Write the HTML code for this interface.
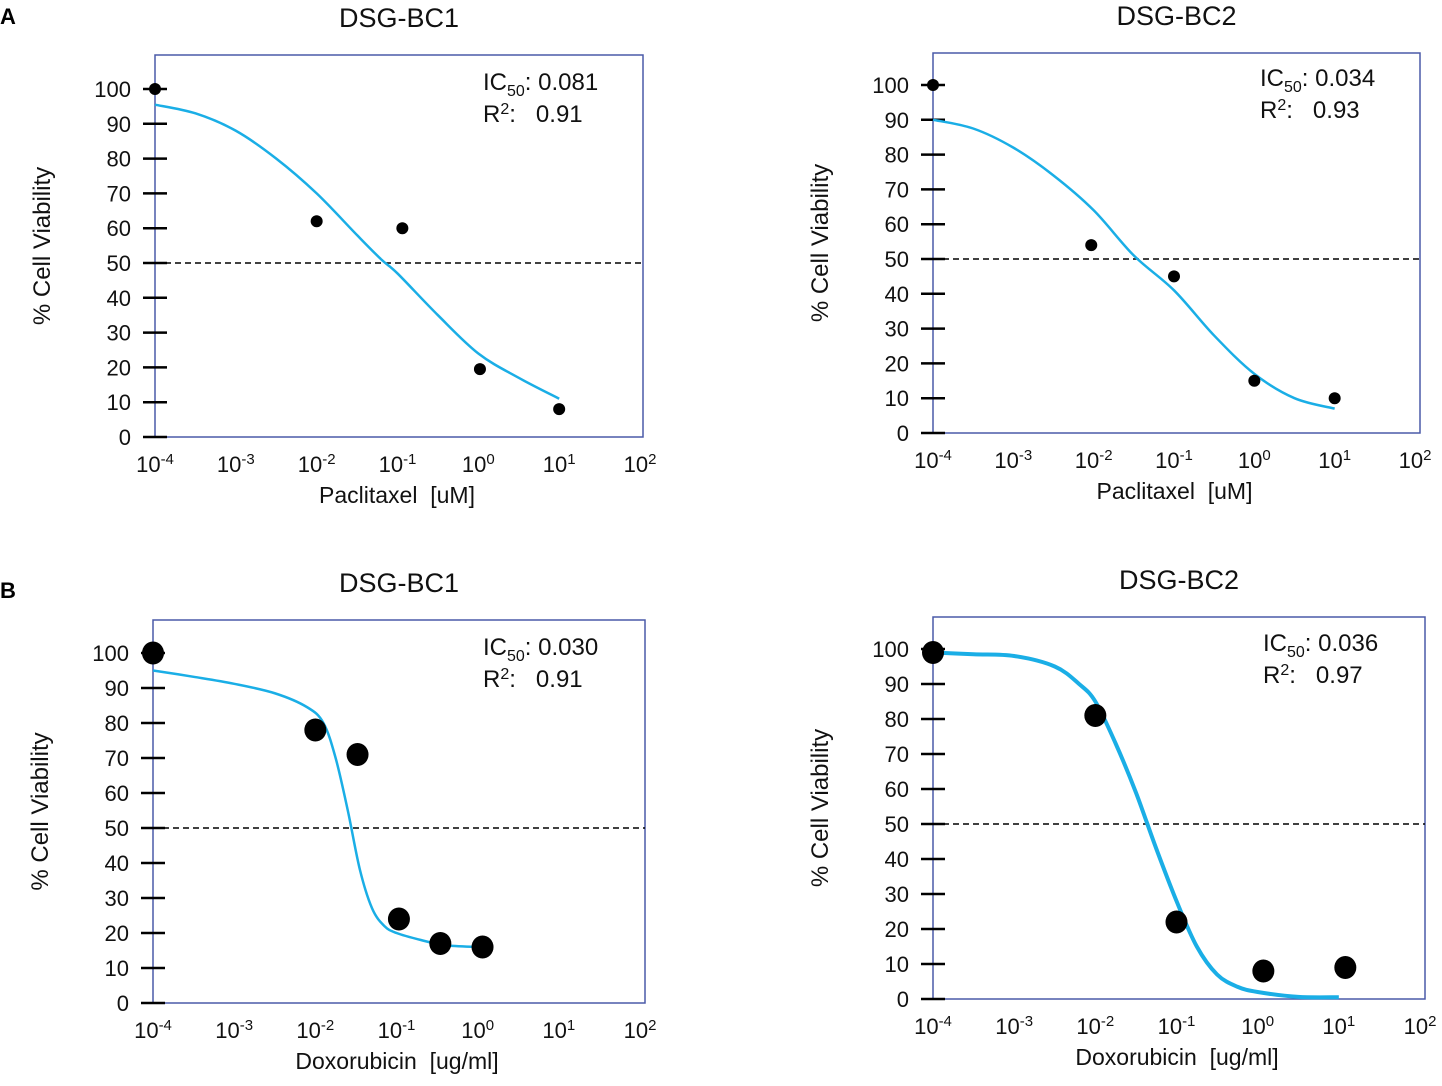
<!DOCTYPE html>
<html><head><meta charset="utf-8"><style>
body{margin:0;background:#fff;}
svg{display:block;font-family:"Liberation Sans",Arial,sans-serif;}
svg text{white-space:pre;}
</style></head><body>
<svg id="fig" width="1442" height="1086" viewBox="0 0 1442 1086">
<text x="0" y="24" font-size="22" font-weight="bold">A</text>
<text x="0" y="598" font-size="22" font-weight="bold">B</text>
</svg>
<script>
// Panel A-left
const aLeftDotsX=[-4,-2,-0.94,0.02,1.0];
const aLeftDotsY=[100,62,60,19.5,8];
const aLeftCurveX=[-4,-3.5,-3,-2.5,-2,-1.5,-1.2,-1,-0.5,0,0.5,1];
const aLeftCurveY=[95.5,93,88,80,70,58,51,47,35,24,17,11];
// Panel A-right
const aRightDotsX=[-4,-2.03,-1,0,1];
const aRightDotsY=[100,54,45,15,10];
const aRightCurveX=[-4,-3.5,-3,-2.5,-2,-1.5,-1,-0.5,0,0.5,1];
const aRightCurveY=[90,87.5,82,74,64,51,41,28,17,10,7];
// Panel B-left
const bLeftDotsX=[-4,-2,-1.48,-0.97,-0.46,0.06];
const bLeftDotsY=[100,78,71,24,17,16];
const bLeftCurveX=[-4,-3.5,-3,-2.5,-2.1,-1.9,-1.75,-1.6,-1.45,-1.3,-1.15,-1,-0.7,-0.4,0];
const bLeftCurveY=[95,93.2,91.2,88.5,84.5,80,70,55,38,27,22,20,18,16.5,16];
// Panel B-right
const bRightDotsX=[-4,-2,-1,0.07,1.08];
const bRightDotsY=[99,81,22,8,9];
const bRightCurveX=[-4,-3.5,-3,-2.5,-2.2,-2,-1.75,-1.5,-1.25,-1,-0.75,-0.5,-0.25,0,0.5,1];
const bRightCurveY=[99,98.5,98,95,90,85,73,59,43,28,15,7,3.5,2,0.6,0.5];

const yTicks=[0,10,20,30,40,50,60,70,80,90,100];
const xTickExps=[-4,-3,-2,-1,0,1,2];

const panels=[
 {id:'a-left',title:'DSG-BC1',xl:155,xr:640,boxR:643,boxT:55,y0:437,y100:89,xlab:'Paclitaxel  [uM]',ic:'0.081',r2:'0.91',dx:aLeftDotsX,dy:aLeftDotsY,cx:aLeftCurveX,cy:aLeftCurveY,dr:6,lw:2.5,tx:483,ty:90},
 {id:'a-right',title:'DSG-BC2',xl:933,xr:1415,boxR:1420,boxT:53,y0:433,y100:85,xlab:'Paclitaxel  [uM]',ic:'0.034',r2:'0.93',dx:aRightDotsX,dy:aRightDotsY,cx:aRightCurveX,cy:aRightCurveY,dr:6,lw:2.5,tx:1260,ty:86},
 {id:'b-left',title:'DSG-BC1',xl:153,xr:640,boxR:645,boxT:620,y0:1003,y100:653,xlab:'Doxorubicin  [ug/ml]',ic:'0.030',r2:'0.91',dx:bLeftDotsX,dy:bLeftDotsY,cx:bLeftCurveX,cy:bLeftCurveY,dr:11,lw:2.5,tx:483,ty:655},
 {id:'b-right',title:'DSG-BC2',xl:933,xr:1420,boxR:1425,boxT:617,y0:999,y100:649,xlab:'Doxorubicin  [ug/ml]',ic:'0.036',r2:'0.97',dx:bRightDotsX,dy:bRightDotsY,cx:bRightCurveX,cy:bRightCurveY,dr:11,lw:4,tx:1263,ty:651}
];
const NS='http://www.w3.org/2000/svg';
const svg=document.getElementById('fig');
function mk(tag,attrs,parent,text){const e=document.createElementNS(NS,tag);for(const k in attrs)e.setAttribute(k,attrs[k]);if(text!==undefined)e.textContent=text;(parent||svg).appendChild(e);return e;}

panels.forEach(p=>{
 const X=v=>p.xl+(v+4)/6*(p.xr-p.xl);
 const Y=v=>p.y0-v/100*(p.y0-p.y100);
 const g=mk('g',{});
 
 
 const cx=(p.xl+p.boxR)/2;
 const t=mk('text',{x:cx,y:p.boxT-28,'font-size':27,'text-anchor':'middle',fill:'#111'},g,p.title);
 
 
 const box=mk('rect',{x:p.xl,y:p.boxT,width:p.boxR-p.xl,height:p.y0-p.boxT,fill:'none',stroke:'#4a5aa8','stroke-width':1.5},g);
 
 
 const d=mk('line',{x1:p.xl,x2:p.boxR,y1:Y(50),y2:Y(50),stroke:'#000','stroke-width':1.5,'stroke-dasharray':'6,4'},g);
 
 
 yTicks.forEach(v=>{
  const tk=mk('line',{x1:p.xl-12,x2:p.xl+12,y1:Y(v),y2:Y(v),stroke:'#000','stroke-width':2.5},g);
  
  
  const tl=mk('text',{x:p.xl-24,y:Y(v)+8,'font-size':22,'text-anchor':'end',fill:'#111'},g,String(v));
  
  
 });
 xTickExps.forEach(e=>{
  const tl=mk('text',{x:X(e),y:p.y0+35,'font-size':22,'text-anchor':'middle',fill:'#111'},g,'10');
  mk('tspan',{dy:-8,'font-size':15},tl,String(e));
  
  
 });
 const xl=mk('text',{x:cx-2,y:p.y0+66,'font-size':23,'text-anchor':'middle',fill:'#111'},g,p.xlab);
 
 
 const ay=(p.boxT+p.y0)/2, axx=p.xl-105;
 const yl=mk('text',{x:axx,y:ay,'font-size':24,'text-anchor':'middle',fill:'#111',transform:`rotate(-90 ${axx} ${ay})`},g,'% Cell Viability');
 
 
 let pts=p.cx.map((v,i)=>[X(v),Y(p.cy[i])]);
 let dd='M'+pts[0][0]+','+pts[0][1];
 for(let i=0;i<pts.length-1;i++){const p0=pts[i-1]||pts[i],p1=pts[i],p2=pts[i+1],p3=pts[i+2]||p2;
  dd+=` C${p1[0]+(p2[0]-p0[0])/6},${p1[1]+(p2[1]-p0[1])/6} ${p2[0]-(p3[0]-p1[0])/6},${p2[1]-(p3[1]-p1[1])/6} ${p2[0]},${p2[1]}`;}
 const c=mk('path',{d:dd,fill:'none',stroke:'#1aaee6','stroke-width':p.lw},g);
 
 
 p.dx.forEach((v,i)=>{
  const dot=mk('ellipse',{cx:X(v),cy:Y(p.dy[i]),rx:p.dr,ry:p.dr*(p.dr>8?1.05:1),fill:'#000'},g);
  
  
 });
 const ic=mk('text',{x:p.tx,y:p.ty,'font-size':24,fill:'#111'},g);
 
 
 ic.appendChild(document.createTextNode('IC'));
 mk('tspan',{dy:6,'font-size':16},ic,'50');
 mk('tspan',{dy:-6},ic,': '+p.ic);
 const r=mk('text',{x:p.tx,y:p.ty+32,'font-size':24,fill:'#111'},g);
 
 
 r.appendChild(document.createTextNode('R'));
 mk('tspan',{dy:-8,'font-size':16},r,'2');
 mk('tspan',{dy:8},r,':   '+p.r2);
});
</script>
</body></html>
